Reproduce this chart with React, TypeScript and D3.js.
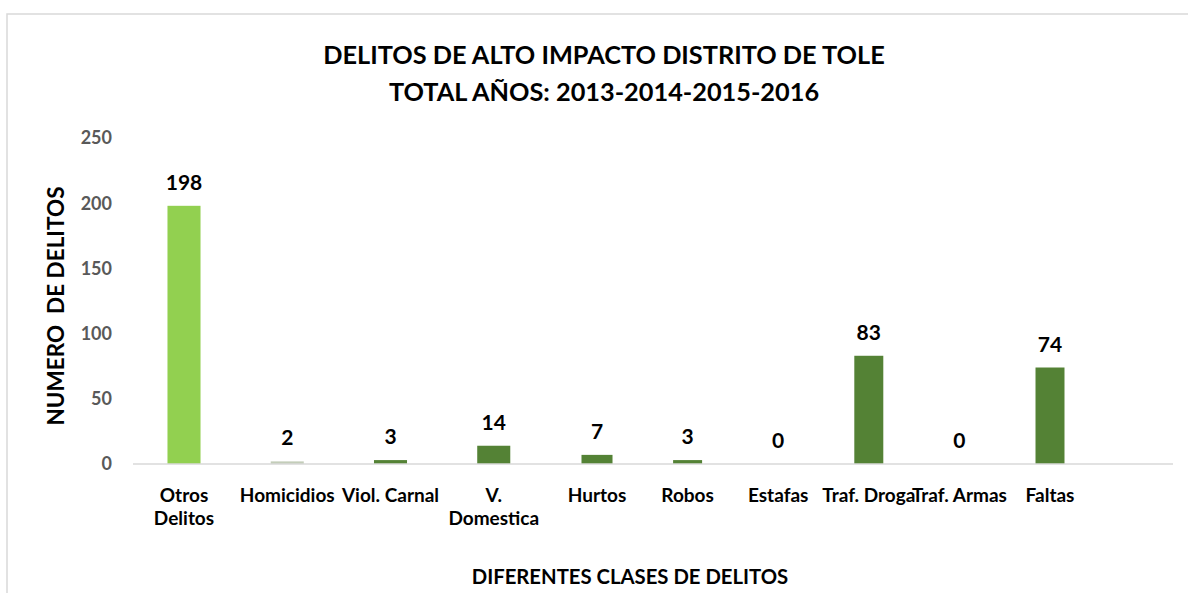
import React from "react";
import * as d3 from "d3";

const categories: string[][] = [
  ["Otros", "Delitos"],
  ["Homicidios"],
  ["Viol. Carnal"],
  ["V.", "Domestica"],
  ["Hurtos"],
  ["Robos"],
  ["Estafas"],
  ["Traf. Droga"],
  ["Traf. Armas"],
  ["Faltas"],
];
const values: number[] = [198, 2, 3, 14, 7, 3, 0, 83, 0, 74];
const barColors: string[] = [
  "#92d050", "#c3cdb9", "#548235", "#548235", "#548235",
  "#548235", "#548235", "#548235", "#548235", "#548235",
];
const yTicks: number[] = [0, 50, 100, 150, 200, 250];
const titleLines: string[] = [
  "DELITOS DE ALTO IMPACTO DISTRITO DE TOLE",
  "TOTAL AÑOS: 2013-2014-2015-2016",
];
const xTitle = "DIFERENTES CLASES DE DELITOS";
const yTitle = "NUMERO  DE DELITOS";

const FONT = "Lato, 'Open Sans', sans-serif";

export default function App() {
  const W = 1188;
  const H = 593;
  const y = d3.scaleLinear().domain([0, 250]).range([464, 138]);
  // category index -> centre x (the source image is spaced unevenly)
  const x = d3.scaleLinear().domain([0, 4, 9]).range([184, 597, 1050]);
  const stepAt = (i: number) => x(i + 0.5) - x(i - 0.5);

  return (
    <svg
      width={W}
      height={H}
      style={{ position: "absolute", left: 0, top: 0, background: "#fff" }}
      fontFamily={FONT}
    >
      <rect x={7} y={14} width={W + 20} height={H + 20} fill="#fff" stroke="#d9d9d9" strokeWidth={1.5} />

      {titleLines.map((t, i) => (
        <text
          key={t}
          x={604}
          y={64 + i * 37}
          textAnchor="middle"
          fontSize={25.3}
          fontWeight={700}
          fill="#000"
        >
          {t}
        </text>
      ))}

      {yTicks.map((t) => (
        <text
          key={t}
          x={112}
          y={y(t)}
          dy="0.36em"
          textAnchor="end"
          fontSize={18}
          fontWeight={700}
          fill="#595959"
        >
          {t}
        </text>
      ))}

      {values.map((v, i) => {
        const w = stepAt(i) * 0.32;
        const cx = x(i);
        return (
          <g key={i}>
            {v > 0 && (
              <rect
                x={cx - w / 2}
                y={y(v)}
                width={w}
                height={y(0) - y(v)}
                fill={barColors[i]}
              />
            )}
            <text
              x={cx}
              y={y(v) - 16}
              textAnchor="middle"
              fontSize={21}
              fontWeight={700}
              fill="#000"
            >
              {v}
            </text>
          </g>
        );
      })}

      <line x1={133} x2={1173} y1={y(0)} y2={y(0)} stroke="#d9d9d9" strokeWidth={1.5} />

      {categories.map((lines, i) => (
        <text
          key={i}
          x={x(i)}
          y={502}
          textAnchor="middle"
          fontSize={19}
          fontWeight={700}
          fill="#000"
        >
          {lines.map((l, j) => (
            <tspan key={j} x={x(i)} dy={j === 0 ? 0 : 23}>
              {l}
            </tspan>
          ))}
        </text>
      ))}

      <text x={630} y={584} textAnchor="middle" fontSize={20.3} fontWeight={700} fill="#000">
        {xTitle}
      </text>

      <text
        transform={`translate(63.5, 306) rotate(-90)`}
        textAnchor="middle"
        fontSize={22.5}
        fontWeight={700}
        fill="#000"
        style={{ whiteSpace: "pre" }}
      >
        {yTitle}
      </text>
    </svg>
  );
}
